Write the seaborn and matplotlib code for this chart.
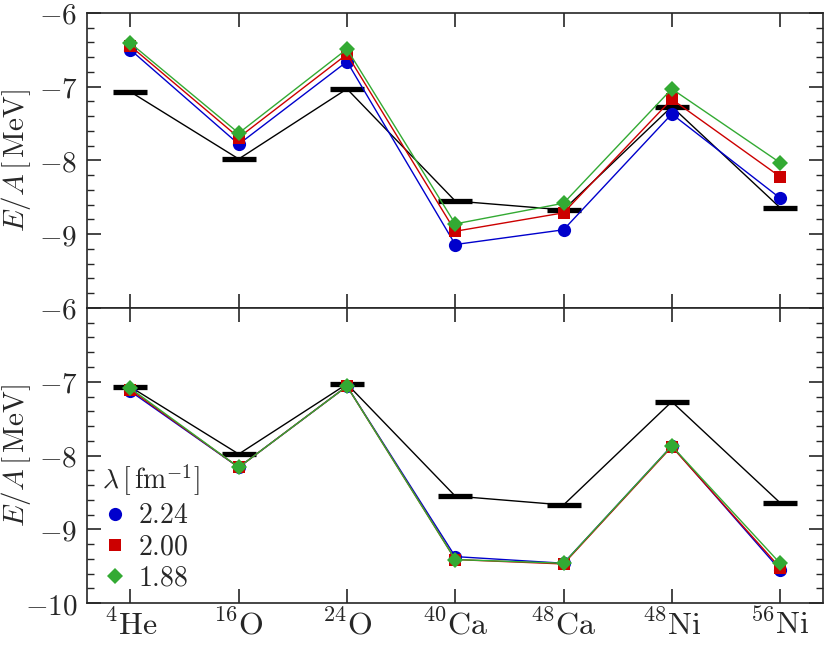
import numpy as np
import pandas as pd
import seaborn as sns
import matplotlib
matplotlib.use('Agg')
from matplotlib import pyplot as plt
from matplotlib.lines import Line2D
from matplotlib.ticker import MultipleLocator

# nuclei and binding energies per nucleon (MeV)
nuclei = [r'$^{4}\mathrm{He}$', r'$^{16}\mathrm{O}$', r'$^{24}\mathrm{O}$', r'$^{40}\mathrm{Ca}$',
          r'$^{48}\mathrm{Ca}$', r'$^{48}\mathrm{Ni}$', r'$^{56}\mathrm{Ni}$']
experiment = [-7.07, -7.98, -7.03, -8.55, -8.67, -7.27, -8.64]

lambdas = ['2.24', '2.00', '1.88']

# top panel
top_224 = [-6.50, -7.78, -6.66, -9.14, -8.94, -7.37, -8.51]
top_200 = [-6.45, -7.69, -6.56, -8.96, -8.71, -7.17, -8.22]
top_188 = [-6.41, -7.63, -6.49, -8.86, -8.58, -7.03, -8.03]

# bottom panel
bot_224 = [-7.13, -8.16, -7.06, -9.37, -9.46, -7.87, -9.55]
bot_200 = [-7.11, -8.16, -7.06, -9.41, -9.47, -7.88, -9.52]
bot_188 = [-7.09, -8.16, -7.06, -9.41, -9.46, -7.87, -9.46]

colors = ['#0000cc', '#cc0000', '#33aa33']
markers = ['o', 's', 'D']
msizes = [9.5, 8.5, 8.5]

sns.set_style('ticks')
plt.rcParams['mathtext.fontset'] = 'cm'
plt.rcParams['font.family'] = ['DejaVu Serif']
plt.rcParams['xtick.direction'] = 'in'
plt.rcParams['ytick.direction'] = 'in'
plt.rcParams['xtick.top'] = True
plt.rcParams['ytick.right'] = True
plt.rcParams['axes.linewidth'] = 1.2

fig, axs = plt.subplots(2, 1, figsize=(8.3, 6.45), dpi=100, sharex=True)
fig.subplots_adjust(left=0.105, right=0.992, top=0.980, bottom=0.065, hspace=0)

xs = np.arange(len(nuclei))
panels = [(top_224, top_200, top_188), (bot_224, bot_200, bot_188)]

for ax, series in zip(axs, panels):
    # experiment: thick bars connected by a thin black line
    sns.lineplot(x=xs, y=experiment, color='black', lw=1.0, marker='_', markersize=25,
                 markeredgewidth=3.8, markeredgecolor='black', ax=ax, zorder=2)
    for vals, c, m, ms in zip(series, colors, markers, msizes):
        sns.lineplot(x=xs, y=vals, color=c, lw=1.0, marker=m, markersize=ms,
                     markeredgewidth=0, ax=ax, zorder=3)

    ax.set_xlim(-0.4, 6.4)
    ax.set_ylim(-10, -6)
    ax.yaxis.set_major_locator(MultipleLocator(1))
    ax.yaxis.set_minor_locator(MultipleLocator(0.2))
    ax.tick_params(which='major', length=10, width=1.2)
    ax.tick_params(which='minor', length=5, width=1.0)
    ax.tick_params(axis='x', which='minor', bottom=False, top=False)
    ax.tick_params(axis='y', pad=7)
    ax.set_ylabel(r'$E/A\,[\,\mathrm{MeV}]$', fontsize=21)
    ax.yaxis.set_label_coords(-0.073, 0.5)

yt = [-10, -9, -8, -7, -6]
axs[0].set_yticks(yt)
axs[0].set_yticklabels(['', r'$-9$', r'$-8$', r'$-7$', r'$-6$'], fontsize=21)
axs[1].set_yticks(yt)
axs[1].set_yticklabels([r'$-10$', r'$-9$', r'$-8$', r'$-7$', r'$-6$'], fontsize=21)

axs[1].set_xticks(xs)
axs[1].set_xticklabels(nuclei, fontsize=23)
axs[1].tick_params(axis='x', pad=5)

handles = [Line2D([], [], color=c, marker=m, markersize=ms, markeredgewidth=0, linestyle='none')
           for c, m, ms in zip(colors, markers, msizes)]
labels = [r'$%s$' % l for l in lambdas]
leg = axs[1].legend(handles, labels, title=r'$\lambda\,[\,\mathrm{fm}^{-1}]$', loc='lower left',
                    frameon=False, fontsize=20, title_fontsize=20, handletextpad=0.3,
                    handlelength=1.0, labelspacing=0.15, borderaxespad=0.0, borderpad=0.2,
                    bbox_to_anchor=(0.012, 0.02))
leg._legend_box.align = 'left'

plt.savefig('out.png')
plt.close()
